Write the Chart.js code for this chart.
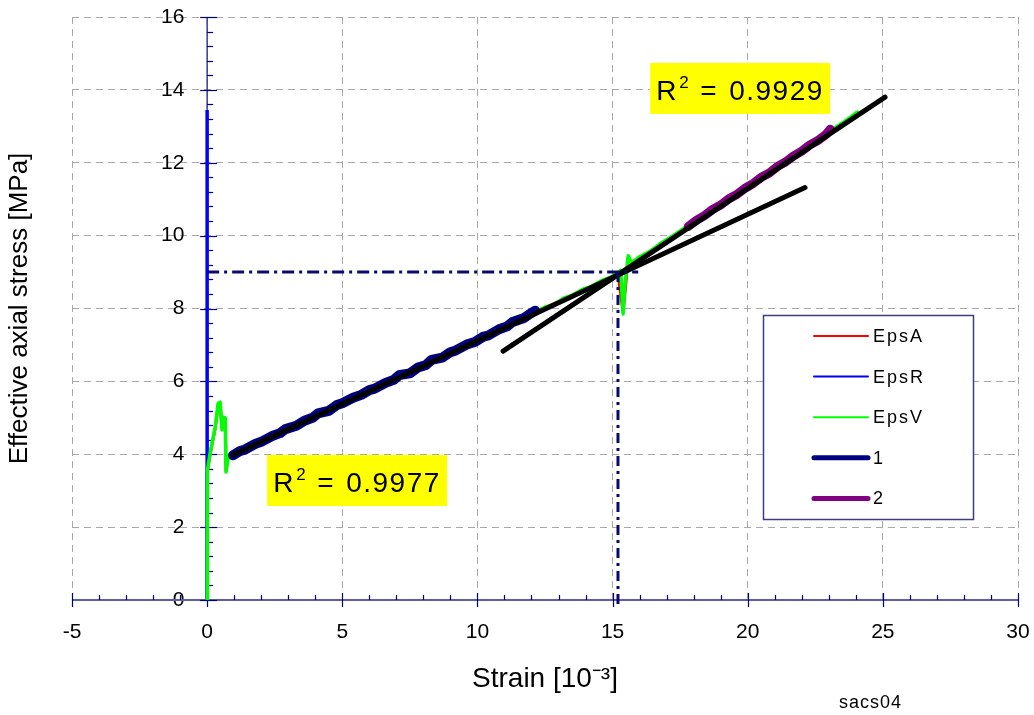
<!DOCTYPE html>
<html><head><meta charset="utf-8">
<script src="https://cdn.jsdelivr.net/npm/chart.js@4.4.1/dist/chart.umd.min.js"></script>
<style>html,body{margin:0;padding:0;background:#fff;}canvas{display:block}</style>
</head><body>
<canvas id="c" width="1034" height="715" style="width:1034px;height:715px"></canvas>
<script>
const FONT = "'Liberation Sans', Arial, Helvetica, sans-serif";

// ---- axis ranges / ticks ----
const xMin = -5, xMax = 30, xStep = 5;
const yMin = 0, yMax = 16, yStep = 2;

// ---- series: EpsA (red) ----
const epsA_x = [0, 0, 0.11, 0.30, 0.41, 0.48, 0.55, 0.59, 0.67, 0.70, 0.78, 0.96, 2.0, 3.0, 6.0, 9.0, 12.0, 13.5, 15.2, 15.39, 15.58, 15.7, 16.4, 17.2, 18.0, 21.0, 24.0];
const epsA_y = [0, 3.5, 4.0, 4.72, 5.37, 5.40, 4.70, 5.0, 4.98, 3.55, 3.95, 3.96, 4.38, 4.68, 5.75, 6.80, 7.86, 8.35, 8.96, 7.9, 9.4, 9.24, 9.55, 9.95, 10.35, 11.84, 13.32];

// ---- series: EpsR (blue) ----
const epsR_x = [0, 0, 0];
const epsR_y = [0, 6.5, 13.45];

// ---- series: EpsV (green) ----
const epsV_x = [0, 0, 0.02, 0.11, 0.30, 0.41, 0.48, 0.55, 0.59, 0.67, 0.70, 0.78, 0.85, 0.96, 1.3, 1.6, 2.0, 2.3, 2.7, 3.0, 3.4, 3.7, 4.1, 4.4, 4.8, 5.1, 5.5, 5.8, 6.2, 6.5, 6.9, 7.2, 7.6, 7.9, 8.3, 8.6, 9.0, 9.3, 9.7, 10.0, 10.4, 10.7, 11.1, 11.4, 11.8, 12.1, 12.5, 12.8, 13.2, 13.5, 13.9, 14.2, 14.6, 14.9, 15.2, 15.3, 15.39, 15.45, 15.58, 15.7, 16.0, 16.4, 16.8, 17.2, 17.6, 18.0, 18.4, 18.8, 19.2, 19.6, 20.0, 20.4, 20.8, 21.2, 21.6, 22.0, 22.4, 22.8, 23.2, 23.6, 24.05];
const epsV_y = [0, 2.0, 3.57, 4.03, 4.75, 5.40, 5.43, 4.67, 5.02, 5.00, 3.51, 3.92, 4.00, 3.98, 4.12, 4.18, 4.39, 4.43, 4.62, 4.66, 4.86, 4.89, 5.10, 5.15, 5.36, 5.40, 5.58, 5.63, 5.84, 5.88, 6.08, 6.12, 6.33, 6.36, 6.56, 6.60, 6.82, 6.85, 7.05, 7.09, 7.30, 7.33, 7.54, 7.59, 7.80, 7.88, 8.04, 8.10, 8.29, 8.36, 8.53, 8.60, 8.77, 8.85, 8.98, 9.05, 7.85, 8.60, 9.45, 9.25, 9.42, 9.58, 9.80, 9.98, 10.18, 10.37, 10.58, 10.76, 10.97, 11.15, 11.36, 11.55, 11.76, 11.94, 12.15, 12.34, 12.55, 12.74, 12.95, 13.14, 13.39];

// ---- series: 1 (navy) ----
const s1_x = [0.96, 1.2, 1.4, 1.8, 2.0, 2.4, 2.7, 2.9, 3.3, 3.6, 3.9, 4.1, 4.5, 4.8, 5.0, 5.4, 5.7, 6.0, 6.2, 6.6, 6.9, 7.1, 7.5, 7.8, 8.1, 8.3, 8.7, 9.0, 9.2, 9.6, 9.9, 10.2, 10.4, 10.8, 11.1, 11.3, 11.7, 12.0, 12.13];
const s1_y = [3.97, 4.08, 4.13, 4.29, 4.34, 4.50, 4.58, 4.69, 4.78, 4.92, 5.00, 5.12, 5.19, 5.35, 5.40, 5.55, 5.63, 5.76, 5.80, 5.96, 6.04, 6.17, 6.22, 6.38, 6.45, 6.59, 6.65, 6.80, 6.85, 7.01, 7.08, 7.22, 7.26, 7.43, 7.51, 7.63, 7.73, 7.88, 7.94];

// ---- series: 2 (purple) ----
const s2_x = [17.8, 18.1, 18.4, 18.7, 19.0, 19.3, 19.6, 19.9, 20.2, 20.5, 20.8, 21.1, 21.4, 21.7, 22.0, 22.3, 22.6, 22.9, 23.05];
const s2_y = [10.25, 10.42, 10.55, 10.72, 10.84, 11.01, 11.13, 11.30, 11.43, 11.60, 11.72, 11.90, 12.02, 12.19, 12.32, 12.49, 12.61, 12.78, 12.92];

// ---- regression lines ----
const fit1_x = [0.96, 22.12];
const fit1_y = [3.98, 11.32];
const fit2_x = [10.95, 25.08];
const fit2_y = [6.83, 13.80];

// ---- dash-dot guide lines ----
const guideH_x = [0, 15.95];
const guideH_y = [9, 9];
const guideV_x = [15.2, 15.2];
const guideV_y = [9, -0.22];

// ---- R^2 annotations ----
const r2Values = ['0.9977', '0.9929'];
const r2AnchorX = [2.22, 16.39];
const r2AnchorY = [3.98, 14.74];

const legendLabels = ['EpsA', 'EpsR', 'EpsV', '1', '2'];
const footnote = 'sacs04';

const pts = (xs, ys) => xs.map((v, i) => ({x: v, y: ys[i]}));

const line = (label, xs, ys, color, width, order, extra) => Object.assign({
  label, data: pts(xs, ys), borderColor: color, backgroundColor: color,
  borderWidth: width, showLine: true, pointRadius: 0, pointHoverRadius: 0,
  tension: 0, order, borderJoinStyle: 'round', borderCapStyle: 'round', fill: false
}, extra || {});

const datasets = [
  line(legendLabels[0], epsA_x, epsA_y, '#ff0000', 3, 7),
  line(legendLabels[1], epsR_x, epsR_y, '#0000ff', 3.5, 6, {borderCapStyle: 'butt'}),
  line(legendLabels[2], epsV_x, epsV_y, '#00ff00', 3.5, 5),
  line(legendLabels[3], s1_x, s1_y, '#000080', 10, 4),
  line(legendLabels[4], s2_x, s2_y, '#800080', 9, 3),
  line('fit1', fit1_x, fit1_y, '#000000', 5, 2),
  line('fit2', fit2_x, fit2_y, '#000000', 5, 2),
  line('guideH', guideH_x, guideH_y, '#0a0a6e', 3, 1, {borderDash: [12, 5, 3, 5], borderCapStyle: 'butt'}),
  line('guideV', guideV_x, guideV_y, '#0a0a6e', 3, 1, {borderDash: [10, 5, 3, 5], borderCapStyle: 'butt', clip: false})
];

const legendStyle = [
  {w: 2}, {w: 2}, {w: 2}, {w: 5}, {w: 5}
];

const axisPlugin = {
  id: 'centerAxes',
  beforeDatasetsDraw(chart) {
    const {ctx, scales: {x, y}} = chart;
    const y0 = y.getPixelForValue(0), x0 = x.getPixelForValue(0);
    ctx.save();
    ctx.strokeStyle = '#5c5caa'; ctx.lineWidth = 2;
    ctx.beginPath(); ctx.moveTo(x.getPixelForValue(xMin), y0); ctx.lineTo(x.getPixelForValue(xMax), y0); ctx.stroke();
    ctx.strokeStyle = '#000080'; ctx.lineWidth = 1.2;
    const nx = (xMax - xMin);
    for (let i = 0; i <= nx; i++) {
      const v = xMin + i;
      const px = Math.round(x.getPixelForValue(v)) + 0.5;
      const major = (i % xStep === 0);
      ctx.beginPath(); ctx.moveTo(px, y0 - (major ? 7 : 5)); ctx.lineTo(px, y0 + (major ? 7 : 0)); ctx.stroke();
    }
    ctx.strokeStyle = '#3a3a96'; ctx.lineWidth = 1.5;
    ctx.beginPath(); ctx.moveTo(x0, y.getPixelForValue(yMin)); ctx.lineTo(x0, y.getPixelForValue(yMax)); ctx.stroke();
    ctx.strokeStyle = '#000080'; ctx.lineWidth = 1.2;
    const ny = Math.round((yMax - yMin) / 0.4);
    for (let i = 0; i <= ny; i++) {
      const v = yMin + i * 0.4;
      const py = Math.round(y.getPixelForValue(v)) + 0.5;
      const major = (i % 5 === 0);
      ctx.beginPath(); ctx.moveTo(x0 - (major ? 7 : 0), py); ctx.lineTo(x0 + (major ? 10 : 6), py); ctx.stroke();
    }
    ctx.restore();
  },
  afterDraw(chart) {
    const {ctx, scales: {x, y}, chartArea} = chart;
    ctx.save();
    for (let i = 0; i < r2Values.length; i++) {
      const bx = x.getPixelForValue(r2AnchorX[i]);
      const by = y.getPixelForValue(r2AnchorY[i]);
      ctx.fillStyle = '#ffff00';
      ctx.fillRect(bx, by, 180, 51);
      ctx.fillStyle = '#000';
      ctx.textBaseline = 'alphabetic';
      ctx.textAlign = 'left';
      ctx.font = '28px ' + FONT;
      ctx.letterSpacing = '0px';
      ctx.fillText('R', bx + 6, by + 37);
      ctx.font = '17px ' + FONT;
      ctx.fillText('2', bx + 29, by + 25);
      ctx.font = '28px ' + FONT;
      ctx.fillText('=', bx + 50, by + 37);
      ctx.letterSpacing = '1.5px';
      ctx.fillText(r2Values[i], bx + 79, by + 37);
      ctx.letterSpacing = '0px';
    }
    const lx = chartArea.right - 255, ly = chartArea.top + 298, lw = 210, lh = 204;
    ctx.fillStyle = '#fff';
    ctx.fillRect(lx, ly, lw, lh);
    ctx.strokeStyle = '#3c3c86'; ctx.lineWidth = 1.5;
    ctx.strokeRect(lx + 0.5, ly + 0.5, lw, lh);
    ctx.font = '18px ' + FONT;
    ctx.textBaseline = 'middle';
    ctx.textAlign = 'left';
    for (let i = 0; i < legendLabels.length; i++) {
      const ds = chart.data.datasets[i];
      const ry = ly + 21 + i * 40.6;
      ctx.strokeStyle = ds.borderColor;
      ctx.lineWidth = legendStyle[i].w;
      ctx.lineCap = 'round';
      ctx.beginPath(); ctx.moveTo(lx + 51, ry); ctx.lineTo(lx + 105, ry); ctx.stroke();
      ctx.fillStyle = '#000';
      ctx.letterSpacing = '2px';
      ctx.fillText(ds.label, lx + 110, ry + 1);
    }
    ctx.letterSpacing = '0px';
    ctx.font = '18px ' + FONT;
    ctx.fillStyle = '#000';
    ctx.textBaseline = 'middle';
    ctx.letterSpacing = '1px';
    ctx.fillText(footnote, 839, 703);
    ctx.restore();
  }
};

const gridCommon = {color: '#a8a8a8', lineWidth: 1, drawTicks: false};

new Chart(document.getElementById('c'), {
  type: 'scatter',
  data: {datasets},
  options: {
    responsive: false,
    animation: false,
    events: [],
    layout: {padding: {left: 0, right: 16, top: 17, bottom: 0}},
    plugins: {legend: {display: false}, tooltip: {enabled: false}},
    scales: {
      x: {
        type: 'linear', position: 'bottom', min: xMin, max: xMax,
        ticks: {stepSize: xStep, color: '#000', font: {family: FONT, size: 21}, padding: 20, maxRotation: 0},
        grid: gridCommon,
        border: {display: false, dash: [7, 5]},
        title: {display: true, text: 'Strain [10\u207B\u00B3]', color: '#000', font: {family: FONT, size: 28}, padding: {top: 4, bottom: 19}},
        afterFit: s => { s.height = 115; s.paddingLeft = 0; s.paddingRight = 0; s.paddingTop = 0; s.paddingBottom = 0; }
      },
      y: {
        type: 'linear', position: 'left', min: yMin, max: yMax,
        ticks: {stepSize: yStep, color: '#000', font: {family: FONT, size: 21}, mirror: true, crossAlign: 'far', padding: 89},
        grid: gridCommon,
        border: {display: false, dash: [7, 5]},
        title: {display: true, text: 'Effective axial stress [MPa]', color: '#000', font: {family: FONT, size: 26}, padding: {top: 4, bottom: 4}},
        afterFit: s => { s.width = 72; s.paddingLeft = 0; s.paddingRight = 0; s.paddingTop = 0; s.paddingBottom = 0; }
      }
    }
  },
  plugins: [axisPlugin]
});
</script>
</body></html>
